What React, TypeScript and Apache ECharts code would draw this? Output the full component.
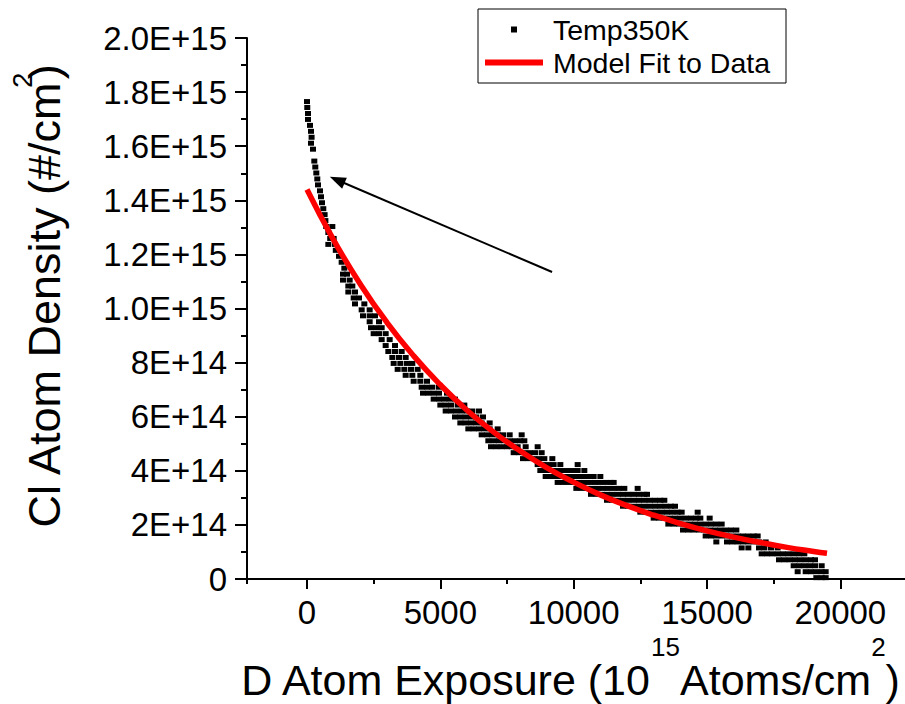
import React, { useEffect, useRef } from "react";
import * as echarts from "echarts";

const FONT = "'Liberation Sans', Arial, Helvetica, sans-serif";

// x axis
const xMin = -2250;
const xMax = 22500;
const xTickValues = [0, 5000, 10000, 15000, 20000];
const xMinorTickValues = [-2250, 2500, 7500, 12500, 17500, 22500];

// y axis
const yMax = 2e15;
const yStep = 2e14;
const yTickLabels = ["0", "2E+14", "4E+14", "6E+14", "8E+14", "1.0E+15", "1.2E+15", "1.4E+15", "1.6E+15", "1.8E+15", "2.0E+15"];

// Temp350K measurements: [density in 1e13 #/cm2, exposures]
const temp350K: [number, number[]][] = [
  [0.5, [19100, 19300, 19450]],
  [2.7, [18400, 18700, 18900, 19100, 19300, 19450]],
  [4.9, [18250, 18450, 18650, 18850, 19050, 19300]],
  [7.1, [17700, 17900, 18100, 18300, 18500, 18700, 18900, 19050]],
  [9.3, [17050, 17250, 17450, 17650, 17850, 18050, 18250, 18450, 18650]],
  [11.5, [16300, 16550, 16950, 17150, 17400, 17650]],
  [13.7, [15350, 15750, 15950, 16150, 16350, 16550, 16750, 16950, 17200]],
  [15.9, [14950, 15150, 15350, 15550, 15750, 15950, 16150, 16350, 16550, 16750, 16900]],
  [18.1, [14100, 14300, 14500, 14700, 14900, 15100, 15300, 15500, 15700, 15900, 16100]],
  [20.3, [13550, 13750, 13950, 14150, 14350, 14550, 14750, 14950, 15150, 15350, 15550]],
  [22.5, [13000, 13200, 13400, 13600, 13800, 14000, 14200, 14400, 14600, 14750, 15100]],
  [24.7, [12500, 12700, 12900, 13100, 13300, 13500, 13700, 13900, 14050, 14650]],
  [26.9, [11850, 12050, 12250, 12450, 12650, 12850, 13050, 13250, 13450, 13650, 13800]],
  [29.1, [11250, 11450, 11650, 11850, 12050, 12250, 12450, 12650, 12850, 13050, 13250, 13400]],
  [31.3, [10650, 10850, 11050, 11250, 11450, 11650, 11850, 12050, 12250, 12450, 12650, 12750]],
  [33.5, [10100, 10300, 10500, 10700, 10900, 11100, 11300, 11500, 11700, 11900, 12400]],
  [35.7, [9400, 9600, 9800, 10000, 10200, 10400, 10600, 10800, 11000, 11200, 11400, 11500]],
  [37.9, [8950, 9150, 9350, 9550, 9750, 9950, 10150, 10350, 10550, 10750, 11000]],
  [40.1, [8750, 8950, 9150, 9350, 9550, 9750, 9950, 10150, 10400]],
  [42.3, [8650, 8850, 9050, 9250, 9500, 10150]],
  [44.5, [8100, 8300, 8500, 8700, 8900, 9200]],
  [46.7, [7750, 7950, 8150, 8350, 8550, 8800]],
  [48.9, [6900, 7100, 7300, 7500, 7700, 7900, 8200, 8650]],
  [51.1, [6800, 7000, 7200, 7400, 7600, 7800, 8000, 8150]],
  [53.3, [6550, 6750, 6950, 7150, 7350, 7600, 8050]],
  [55.5, [6050, 6250, 6450, 6650, 6850, 7150]],
  [57.7, [5750, 5950, 6150, 6350, 6550, 6850]],
  [59.9, [5550, 5750, 5950, 6150, 6350, 6600]],
  [62.1, [5200, 5400, 5600, 5800, 6000, 6200, 6450]],
  [64.3, [5000, 5200, 5400, 5650, 5900]],
  [66.5, [4750, 4950, 5150, 5350, 5550]],
  [68.7, [4350, 4550, 4750, 4950, 5250]],
  [70.9, [4300, 4500, 4700, 4950]],
  [73.1, [4000, 4250, 4500]],
  [75.3, [3700, 3950, 4250]],
  [77.5, [3400, 3650, 3900, 4150]],
  [79.7, [3250, 3500, 3750, 3950]],
  [81.9, [3200, 3450, 3700]],
  [84.1, [3050, 3300, 3550]],
  [86.3, [2950, 3300]],
  [88.5, [2800, 3100]],
  [90.7, [2500, 2700, 2950]],
  [92.9, [2400, 2600, 2800]],
  [95.1, [2350, 2700]],
  [97.3, [2100, 2350, 2550]],
  [99.5, [2050, 2350]],
  [101.7, [1800, 2150]],
  [103.9, [1750, 1950]],
  [106.1, [1550, 1800]],
  [108.3, [1550, 1700]],
  [110.5, [1350, 1600]],
  [112.7, [1350, 1500]],
  [114.9, [1400]],
  [117.1, [1300]],
  [119.3, [1200]],
  [121.5, [1080]],
  [123.7, [800, 1050]],
  [125.9, [870, 1000]],
  [128.1, [800]],
  [130.3, [720, 950]],
  [132.5, [690]],
  [134.7, [660]],
  [136.9, [611]],
  [139.1, [562]],
  [141.3, [525]],
  [143.5, [487]],
  [145.7, [412]],
  [147.9, [386]],
  [150.1, [349]],
  [152.3, [311]],
  [154.5, [274]],
  [158.9, [225]],
  [161.1, [150]],
  [163.3, [172]],
  [165.5, [150]],
  [167.7, [112]],
  [169.9, [37]],
  [172.1, [37]],
  [174.3, [10]],
  [176.5, [0]],
];

// Model fit (density in 1e13 #/cm2)
const fitX = [0, 1000, 2000, 3000, 4000, 5000, 6000, 7000, 8000, 9000, 10000, 11000, 12000, 13000, 14000, 15000, 16000, 17000, 18000, 19000, 19500];
const fitY = [144, 125.3, 109, 94.8, 82.5, 71.8, 62.4, 54.3, 47.3, 41.1, 35.8, 31.1, 27.1, 23.6, 20.5, 17.8, 15.5, 13.5, 11.7, 10.2, 9.5];

// annotation arrow (data coordinates, density in 1e13)
const arrowTail = [9190, 113.5];
const arrowHead = [1130, 147.5];

const UNIT = 1e13;

const tempData: [number, number][] = [];
temp350K.forEach(([lv, xs]) => xs.forEach((x) => tempData.push([x, lv * UNIT])));
const fitData = fitX.map((x, i) => [x, fitY[i] * UNIT]);

const black = "#000";
const red = "#ff0000";

const option: any = {
  animation: false,
  backgroundColor: "#fff",
  textStyle: { fontFamily: FONT, color: black },
  grid: { left: 247, top: 38, width: 660, bottom: 125, containLabel: false, outerBoundsMode: "none" },
  legend: {
    orient: "vertical",
    left: 478,
    top: 9,
    padding: [6, 16, 6, 7],
    itemGap: 4,
    itemWidth: 58,
    itemHeight: 6,
    backgroundColor: "#fff",
    borderColor: black,
    borderWidth: 1,
    borderRadius: 0,
    selectedMode: false,
    textStyle: { fontSize: 28.5, fontFamily: FONT, color: black, padding: [0, 0, 0, 5] },
    data: [
      { name: "Temp350K", icon: "path://M0,0L10,0L10,10L0,10Z", itemStyle: { color: black, opacity: 1 } },
      { name: "Model Fit to Data", icon: "rect", itemStyle: { color: red, opacity: 1 } },
    ],
  },
  xAxis: [
    {
      type: "value",
      min: xMin,
      max: xMax,
      position: "bottom",
      axisLine: { show: true, onZero: false, lineStyle: { color: black, width: 2 } },
      axisTick: { show: true, customValues: xTickValues, length: 10, lineStyle: { color: black, width: 2 } },
      axisLabel: {
        customValues: xTickValues,
        formatter: (v: number) => String(v),
        fontSize: 33,
        fontFamily: FONT,
        color: black,
        margin: 17,
      },
      splitLine: { show: false },
      name: "{a|D Atom Exposure (10}{s|15}{a|Atoms/cm}{s|2}{a|)}",
      nameLocation: "middle",
      nameGap: 52,
      nameTextStyle: {
        fontSize: 43,
        fontFamily: FONT,
        color: black,
        padding: [0, 14, 0, 0],
        rich: {
          a: { fontSize: 43, fontFamily: FONT, color: black, lineHeight: 50 },
          s: { fontSize: 26, fontFamily: FONT, color: black, lineHeight: 26, padding: [0, 0, 66, 0] },
        },
      },
    },
    {
      type: "value",
      min: xMin,
      max: xMax,
      position: "bottom",
      axisLine: { show: false, onZero: false },
      axisTick: { show: true, customValues: xMinorTickValues, length: 5, lineStyle: { color: black, width: 2 } },
      axisLabel: { show: false },
      splitLine: { show: false },
    },
  ],
  yAxis: {
    type: "value",
    min: 0,
    max: yMax,
    interval: yStep,
    axisLine: { show: true, onZero: false, lineStyle: { color: black, width: 2 } },
    axisTick: { show: true, length: 12, lineStyle: { color: black, width: 2 } },
    minorTick: { show: true, splitNumber: 2, length: 6, lineStyle: { color: black, width: 2 } },
    axisLabel: {
      formatter: (v: number) => yTickLabels[Math.round(v / yStep)] ?? "",
      fontSize: 33,
      fontFamily: FONT,
      color: black,
      margin: 20,
    },
    splitLine: { show: false },
    minorSplitLine: { show: false },
    name: "{a|Cl Atom Density (#/cm}{s|2}{a|)}",
    nameLocation: "middle",
    nameRotate: 90,
    nameGap: 178,
    nameTextStyle: {
      fontSize: 45,
      fontFamily: FONT,
      color: black,
      padding: [0, 0, 0, 24],
      rich: {
        a: { fontSize: 45, fontFamily: FONT, color: black, lineHeight: 50 },
        s: { fontSize: 28, fontFamily: FONT, color: black, lineHeight: 28, padding: [0, 0, 44, 0], width: 2 },
      },
    },
  },
  series: [
    {
      name: "Temp350K",
      type: "scatter",
      xAxisIndex: 0,
      data: tempData,
      symbol: "rect",
      symbolSize: [6, 5],
      itemStyle: { color: black, opacity: 1 },
      emphasis: { disabled: true },
      z: 2,
      markLine: {
        silent: true,
        symbol: ["none", "triangle"],
        symbolSize: [12, 16],
        lineStyle: { color: black, width: 2, type: "solid", opacity: 1 },
        label: { show: false },
        emphasis: { disabled: true },
        data: [[{ coord: [arrowTail[0], arrowTail[1] * UNIT] }, { coord: [arrowHead[0], arrowHead[1] * UNIT] }]],
      },
    },
    {
      name: "Model Fit to Data",
      type: "line",
      xAxisIndex: 0,
      data: fitData,
      symbol: "none",
      showSymbol: false,
      smooth: true,
      lineStyle: { color: red, width: 5.5 },
      itemStyle: { color: red },
      emphasis: { disabled: true },
      z: 3,
    },
  ],
};

export default function App() {
  const ref = useRef<HTMLDivElement>(null);
  useEffect(() => {
    const chart = echarts.init(ref.current!, null, { renderer: "svg" });
    chart.setOption(option);
    return () => chart.dispose();
  }, []);
  return (
    <div
      ref={ref}
      style={{ position: "fixed", left: 0, top: 0, width: 905, height: 704, background: "#fff" }}
    />
  );
}
